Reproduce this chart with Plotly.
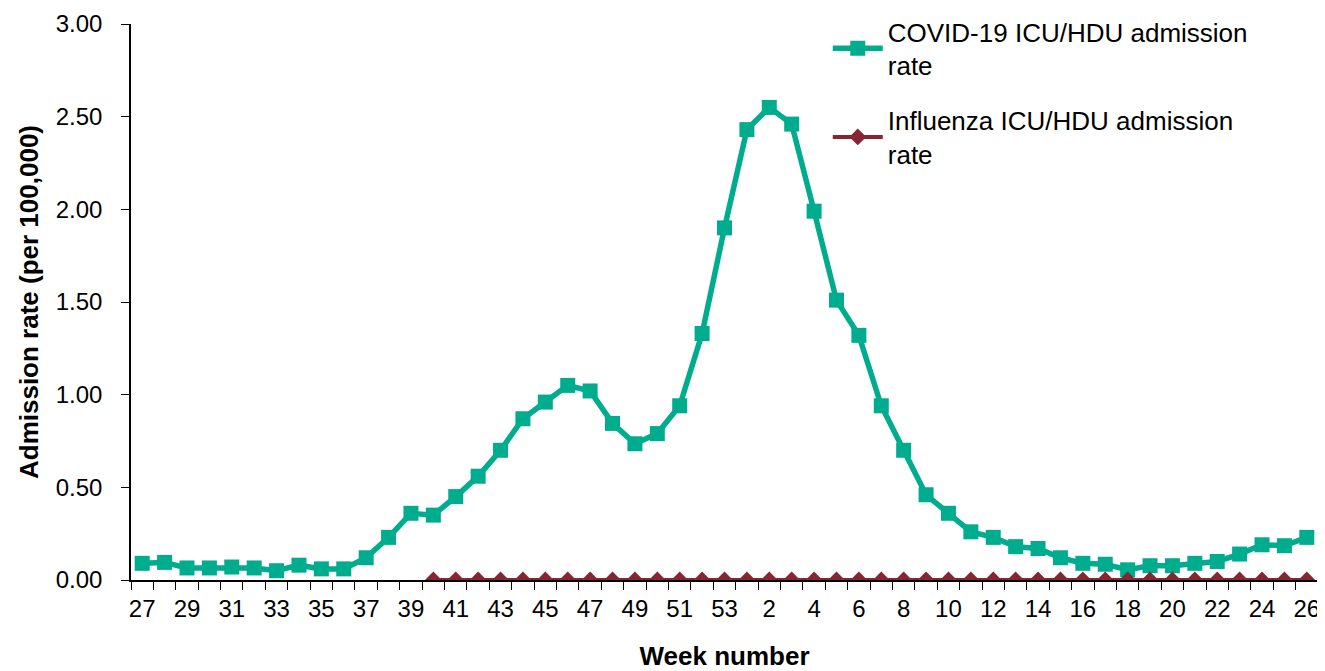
import plotly.graph_objects as go

weeks = [str(w) for w in range(27, 54)] + [str(w) for w in range(1, 27)]

covid_rate = [0.09, 0.095, 0.065, 0.065, 0.07, 0.065, 0.05, 0.08, 0.06, 0.06,
              0.12, 0.23, 0.36, 0.35, 0.45, 0.56, 0.70, 0.87, 0.96, 1.05,
              1.02, 0.845, 0.735, 0.79, 0.94, 1.33, 1.90,
              2.43, 2.55, 2.46, 1.99, 1.51, 1.32, 0.94, 0.70, 0.46, 0.36,
              0.26, 0.23, 0.18, 0.17, 0.12, 0.09, 0.085, 0.055, 0.077, 0.077,
              0.09, 0.10, 0.14, 0.19, 0.185, 0.23]

flu_weeks = weeks[13:]
flu_rate = [0.0] * len(flu_weeks)

week_labels = weeks[::2]

x_covid = [weeks.index(w) for w in weeks]
x_flu = [weeks.index(w) for w in flu_weeks]
tick_pos = [weeks.index(w) for w in week_labels]

teal = '#00AC8E'
maroon = '#862633'

fig = go.Figure()
fig.add_trace(go.Scatter(
    x=x_covid, y=covid_rate,
    mode='lines+markers',
    name='COVID-19 ICU/HDU admission<br>rate',
    legendgroup='covid',
    line=dict(color=teal, width=5.5),
    marker=dict(symbol='square', size=15, color=teal)
))
fig.add_trace(go.Scatter(
    x=x_flu, y=flu_rate,
    mode='lines+markers',
    name='Influenza ICU/HDU admission<br>rate',
    legendgroup='flu',
    line=dict(color=maroon, width=4),
    marker=dict(symbol='diamond', size=13, color=maroon)
))

# page body adds an 8px offset, so the figure is 8px smaller each way
fig.update_layout(
    width=1317, height=663,
    margin=dict(l=123, r=7, t=0, b=91),
    plot_bgcolor='white', paper_bgcolor='white',
    font=dict(family='Liberation Sans, Arial, sans-serif', size=24, color='black'),
    showlegend=True,
    legend=dict(
        x=0.587, y=1.0, xanchor='left', yanchor='top',
        bgcolor='rgba(0,0,0,0)',
        font=dict(size=26),
        traceorder='grouped',
        tracegroupgap=18,
        itemwidth=50
    ),
    xaxis=dict(
        range=[-0.5, len(weeks) - 0.5],
        tickmode='array', tickvals=tick_pos, ticktext=week_labels,
        ticks='', showgrid=False, zeroline=False,
        showline=True, linecolor='black', linewidth=1.5,
        tickfont=dict(size=24), automargin=False,
        ticklabelstandoff=6,
        minor=dict(ticks='outside', ticklen=8, tickcolor='black',
                   tick0=0.5, dtick=1, showgrid=False),
        title=dict(text='<b>Week number</b>', font=dict(size=26), standoff=30)
    ),
    yaxis=dict(
        domain=[0, 556 / 572],
        range=[0, 3], dtick=0.5, tickformat='.2f',
        ticks='outside', ticklen=8, tickcolor='black',
        ticklabelstandoff=14,
        showgrid=False, zeroline=False,
        showline=True, linecolor='black', linewidth=1.5,
        tickfont=dict(size=24), automargin=False,
        title=dict(text='<b>Admission rate (per 100,000)</b>', font=dict(size=26), standoff=10)
    )
)

fig.write_html("out.html")
